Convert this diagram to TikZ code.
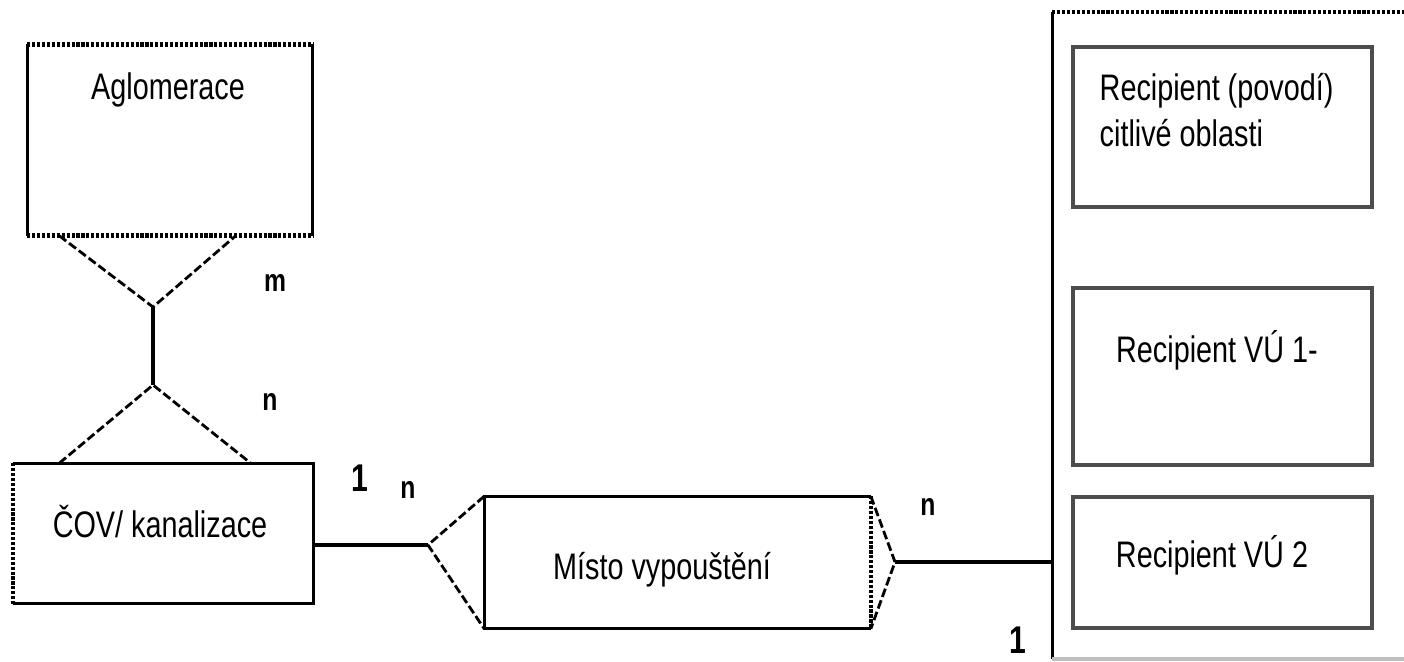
\documentclass[tikz,border=0pt]{standalone}
\usepackage{fontspec}
\setmainfont[FakeStretch=0.78]{Liberation Sans}
\usetikzlibrary{positioning}

\begin{document}
\begin{tikzpicture}[x=0.01cm, y=-0.01cm,
    entity/.style={draw=none, inner sep=0pt},
    lbl/.style={font=\fontsize{10.5}{13}\selectfont, inner sep=0pt},
    card/.style={font=\fontsize{9}{10}\selectfont\bfseries, inner sep=0pt},
    edge/.style={line width=0.9pt},
    dots/.style={line width=1.3pt, dash pattern=on 0.9pt off 0.5pt},
    foot/.style={line width=0.8pt, dash pattern=on 2.5pt off 1pt},
    recip/.style={draw=black!70, line width=1.3pt, minimum width=2.99cm, inner sep=0pt}]

    \useasboundingbox (0,0) rectangle (1404,662);

    % Aglomerace
    \node[entity, minimum width=2.84cm, minimum height=1.9cm] (aglo) at (170,140) {};
    \node[lbl] (aglotxt) at (168,90) {Aglomerace};
    \draw[edge] (aglo.north west) -- (aglo.south west);
    \draw[edge] (aglo.north east) -- (aglo.south east);
    \draw[dots] (aglo.north west) -- (aglo.north east);
    \draw[dots] (aglo.south west) -- (aglo.south east);

    % COV / kanalizace
    \node[entity, minimum width=2.99cm, minimum height=1.39cm] (cov) at (163.5,533.5) {};
    \node[lbl] (covtxt) at (160,522) {ČOV/ kanalizace};
    \draw[edge] (cov.north west) -- (cov.north east) -- (cov.south east) -- (cov.south west);
    \draw[dots] (cov.north west) -- (cov.south west);

    % Misto vypousteni
    \node[entity, minimum width=3.85cm, minimum height=1.31cm] (misto) at (677.5,562.5) {};
    \node[lbl] (mistotxt) at (662,570) {Místo vypouštění};
    \draw[edge] (misto.north east) -- (misto.north west) -- (misto.south west) -- (misto.south east);
    \draw[dots] (misto.north east) -- (misto.south east);

    % Recipienty
    \node[entity, minimum width=3.61cm, minimum height=6.45cm] (water) at (1233.5,335.5) {};
    \draw[edge] (water.north west) -- (water.south west);
    \draw[dots] (water.north west) -- (water.north east);
    \draw[black!25, line width=1pt] (water.south west) -- (water.south east);

    \node[recip, minimum height=1.6cm] (rec1) at (1222.5,127) {};
    \node[lbl, anchor=west, align=left] (rec1txt) at (1099,110) {Recipient (povodí)\\citlivé oblasti};
    \node[recip, minimum height=1.77cm] (rec2) at (1222.5,376.5) {};
    \node[lbl] (rec2txt) at (1217,350) {Recipient VÚ 1-};
    \node[recip, minimum height=1.31cm] (rec3) at (1222.5,562.5) {};
    \node[lbl] (rec3txt) at (1212,555) {Recipient VÚ 2};

    % Vazby
    \coordinate (hubA) at (153,307);
    \coordinate (hubB) at (153,385);
    \draw[foot] ([xshift=0.32cm]aglo.south west) -- (hubA) -- ([xshift=-0.77cm]aglo.south east);
    \draw[edge] (hubA) -- (hubB);
    \draw[foot] ([xshift=0.46cm]cov.north west) -- (hubB) -- ([xshift=-0.63cm]cov.north east);

    \coordinate (hubC) at (428,545);
    \draw[edge] (cov.east |- hubC) -- (hubC);
    \draw[foot] (misto.north west) -- (hubC) -- (misto.south west);

    \coordinate (hubD) at (895,562);
    \draw[foot] (misto.north east) -- (hubD) -- (misto.south east);
    \draw[edge] (hubD) -- (water.west |- hubD);

    % Kardinality
    \node[card] (cardm) at (275,283) {m};
    \node[card] (cardn1) at (270,402) {n};
    \node[card, font=\fontsize{11}{12}\selectfont\bfseries] (card1a) at (360,478) {1};
    \node[card] (cardn2) at (408,490) {n};
    \node[card] (cardn3) at (928,507) {n};
    \node[card, font=\fontsize{11}{12}\selectfont\bfseries] (card1b) at (1018,640) {1};

\end{tikzpicture}
\end{document}
